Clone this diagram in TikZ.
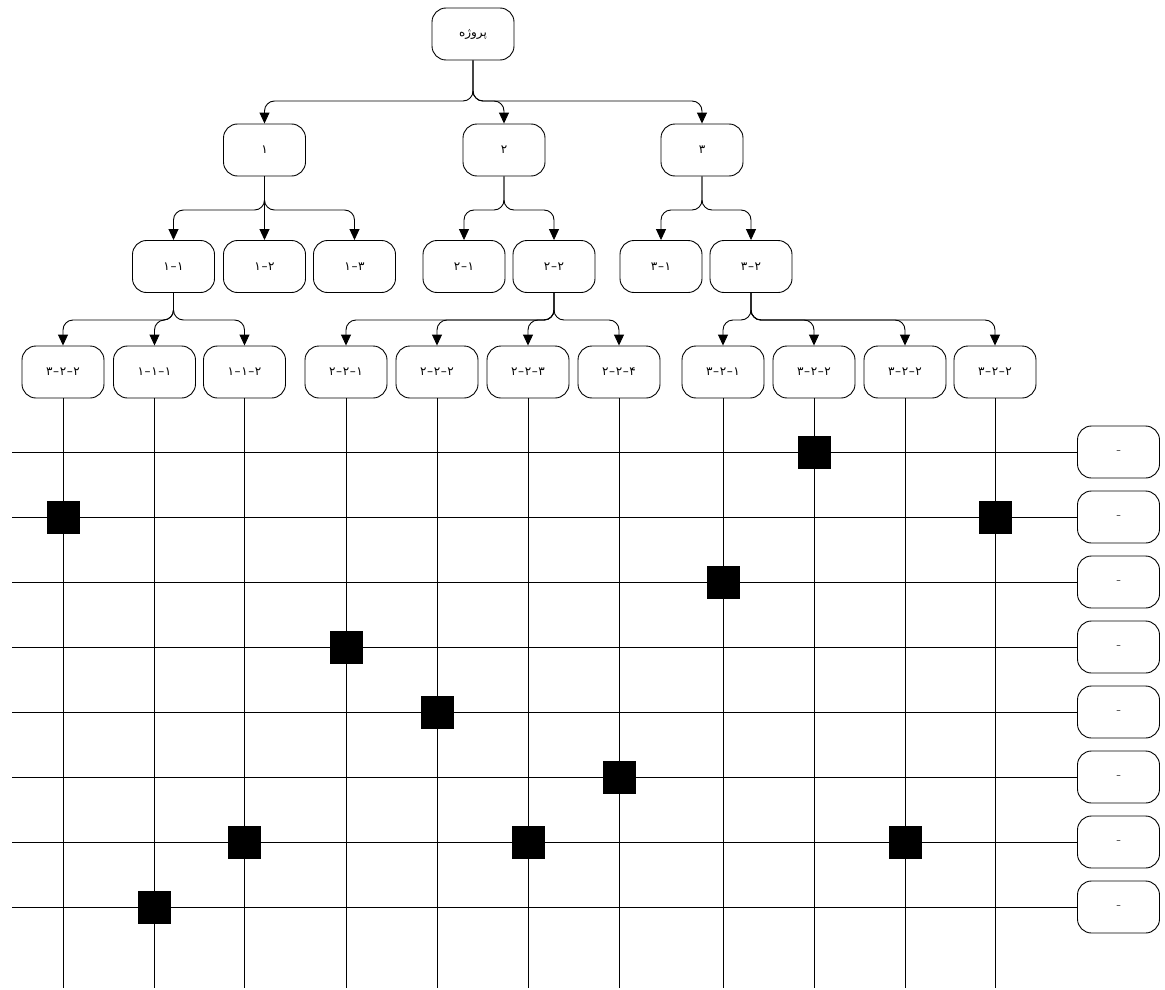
\documentclass[tikz,border=0pt]{standalone}
\usepackage{fontspec}
\setmainfont{DejaVu Sans}
\newfontfamily\arabicfont[Script=Arabic]{DejaVu Sans}
\TeXXeTstate=1
\usetikzlibrary{arrows.meta}
\newcommand{\dd}{\hspace{0.6pt}–\hspace{0.6pt}}
\tikzset{
  box/.style={draw, line width=0.9pt, rounded corners=14pt, minimum width=82pt, minimum height=52pt, inner sep=0pt, font=\arabicfont\fontsize{12}{14}\selectfont},
  conn/.style={draw, line width=0.9pt, rounded corners=10pt, -{Triangle[width=10pt,length=11pt]}},
  grid/.style={draw, line width=0.9pt},
  mark box/.style={fill=black, draw=black, minimum size=32pt, inner sep=0pt}
}
\begin{document}
\begin{tikzpicture}[x=1pt,y=-1pt]
\useasboundingbox (0,0) rectangle (1165,990);
% root
\node[box] (root) at (473,34) {\beginR پروژه\endR};
% level 1
\node[box] (a1) at (264.5,150) {۱};
\node[box] (a2) at (504,150) {۲};
\node[box] (a3) at (702,150) {۳};
% level 2
\node[box] (b11) at (173.5,266.5) {۱\dd۱};
\node[box] (b12) at (264.5,266.5) {۱\dd۲};
\node[box] (b13) at (354.5,266.5) {۱\dd۳};
\node[box] (b21) at (464,266.5) {۲\dd۱};
\node[box] (b22) at (554,266.5) {۲\dd۲};
\node[box] (b31) at (661,266.5) {۳\dd۱};
\node[box] (b32) at (751,266.5) {۳\dd۲};
% level 3
\node[box] (c1) at (63,372) {۳\dd۲\dd۲};
\node[box] (c2) at (154.5,372) {۱\dd۱\dd۱};
\node[box] (c3) at (244.5,372) {۱\dd۱\dd۲};
\node[box] (c4) at (346,372) {۲\dd۲\dd۱};
\node[box] (c5) at (437,372) {۲\dd۲\dd۲};
\node[box] (c6) at (528,372) {۲\dd۲\dd۳};
\node[box] (c7) at (619,372) {۲\dd۲\dd۴};
\node[box] (c8) at (723,372) {۳\dd۲\dd۱};
\node[box] (c9) at (814,372) {۳\dd۲\dd۲};
\node[box] (c10) at (905,372) {۳\dd۲\dd۲};
\node[box] (c11) at (995,372) {۳\dd۲\dd۲};
% right boxes
\foreach \i/\yy in {1/452,2/517,3/582,4/647,5/712,6/777,7/842,8/907}{
  \node[box, font=\fontsize{9}{11}\selectfont] (r\i) at (1118.5,\yy) {–};
  \coordinate (l\i) at (12,\yy);
}
% connectors level 0 -> 1
\foreach \c in {a1,a2,a3}{
  \draw[conn] (root.south) -- (root.south |- 0,101) -| (\c.north);
}
% level 1 -> 2
\foreach \c in {b11,b13}{
  \draw[conn] (a1.south) -- (a1.south |- 0,210) -| (\c.north);
}
\draw[conn] (a1.south) -- (b12.north);
\foreach \c in {b21,b22}{
  \draw[conn] (a2.south) -- (a2.south |- 0,210) -| (\c.north);
}
\foreach \c in {b31,b32}{
  \draw[conn] (a3.south) -- (a3.south |- 0,210) -| (\c.north);
}
% level 2 -> 3
\foreach \c in {c1,c2,c3}{
  \draw[conn] (b11.south) -- (b11.south |- 0,320) -| (\c.north);
}
\foreach \c in {c4,c5,c6,c7}{
  \draw[conn] (b22.south) -- (b22.south |- 0,320) -| (\c.north);
}
\foreach \c in {c8,c9,c10,c11}{
  \draw[conn] (b32.south) -- (b32.south |- 0,320) -| (\c.north);
}
% grid lines
\foreach \i in {1,...,8}{
  \draw[grid] (l\i) -- (r\i.west);
}
\foreach \c in {c1,c2,c3,c4,c5,c6,c7,c8,c9,c10,c11}{
  \coordinate (\c-end) at (\c.south |- 0,988);
  \draw[grid] (\c.south) -- (\c-end);
}
% marks
\node[mark box] (m1) at (c9 |- r1) {};
\node[mark box] (m2) at (c1 |- r2) {};
\node[mark box] (m3) at (c11 |- r2) {};
\node[mark box] (m4) at (c8 |- r3) {};
\node[mark box] (m5) at (c4 |- r4) {};
\node[mark box] (m6) at (c5 |- r5) {};
\node[mark box] (m7) at (c7 |- r6) {};
\node[mark box] (m8) at (c3 |- r7) {};
\node[mark box] (m9) at (c6 |- r7) {};
\node[mark box] (m10) at (c10 |- r7) {};
\node[mark box] (m11) at (c2 |- r8) {};
\end{tikzpicture}
\end{document}
